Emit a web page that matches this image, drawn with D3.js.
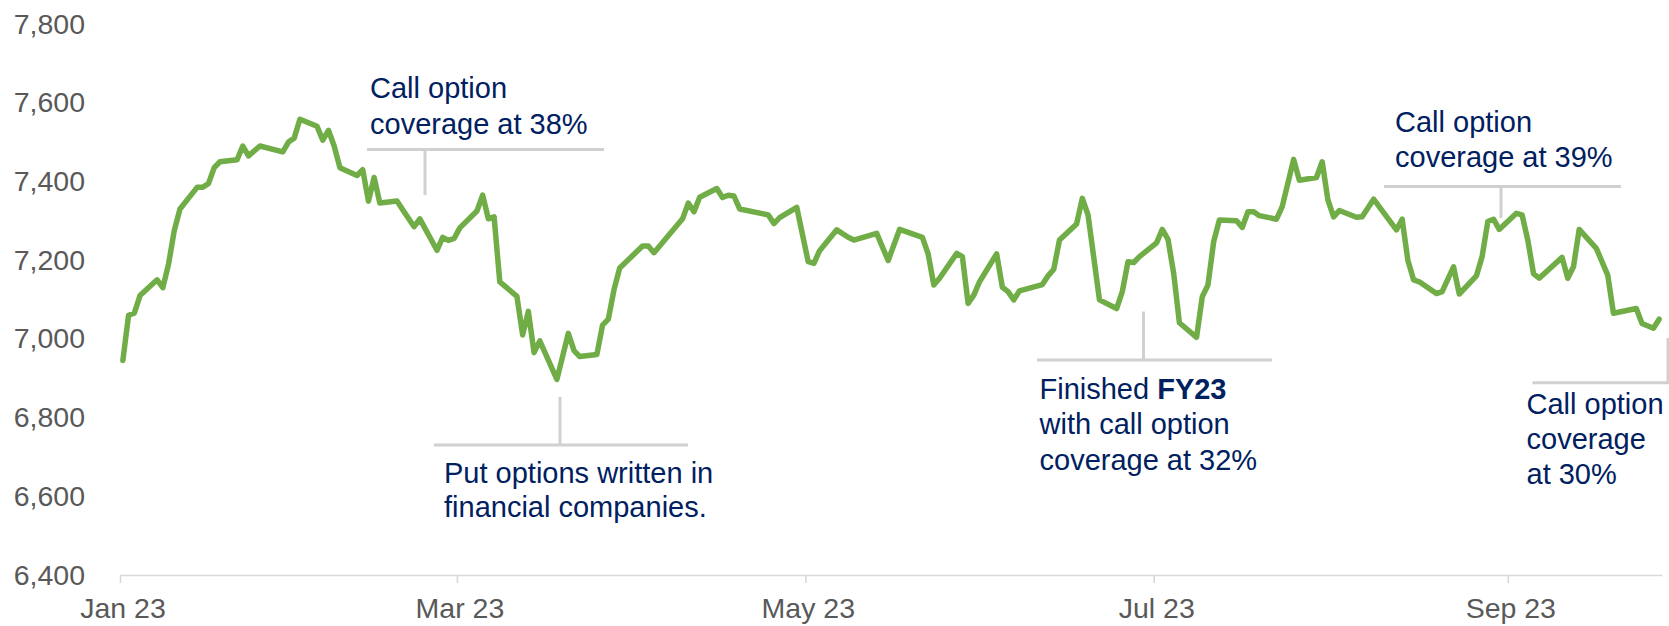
<!DOCTYPE html>
<html>
<head>
<meta charset="utf-8">
<script src="https://cdn.jsdelivr.net/npm/d3@7"></script>
<style>
  html, body { margin: 0; padding: 0; background: #ffffff; }
  svg { display: block; font-family: "Liberation Sans", Arial, Helvetica, sans-serif; }
</style>
</head>
<body>
<svg id="chart" width="1669" height="626"></svg>
<script>
// S&P/ASX 200 daily closes, January – September 2023
const dates = [
  "2023-01-03","2023-01-04","2023-01-05","2023-01-06","2023-01-09","2023-01-10","2023-01-11","2023-01-12","2023-01-13",
  "2023-01-16","2023-01-17","2023-01-18","2023-01-19","2023-01-20","2023-01-23","2023-01-24","2023-01-25","2023-01-27",
  "2023-01-31","2023-02-01","2023-02-02","2023-02-03","2023-02-06","2023-02-07","2023-02-08","2023-02-09","2023-02-10",
  "2023-02-13","2023-02-14","2023-02-15","2023-02-16","2023-02-17","2023-02-20","2023-02-21","2023-02-23","2023-02-24",
  "2023-02-27","2023-02-28","2023-03-01","2023-03-02","2023-03-03","2023-03-06","2023-03-07","2023-03-08","2023-03-09",
  "2023-03-10","2023-03-13","2023-03-14","2023-03-15","2023-03-16","2023-03-17","2023-03-20","2023-03-22","2023-03-23",
  "2023-03-24","2023-03-27","2023-03-28","2023-03-29","2023-03-30","2023-03-31","2023-04-04","2023-04-05","2023-04-06",
  "2023-04-11","2023-04-12","2023-04-13","2023-04-14","2023-04-17","2023-04-18","2023-04-19","2023-04-20","2023-04-21",
  "2023-04-26","2023-04-27","2023-04-28","2023-05-01","2023-05-03","2023-05-04","2023-05-05","2023-05-08","2023-05-10",
  "2023-05-11","2023-05-15","2023-05-17","2023-05-19","2023-05-23","2023-05-24","2023-05-25","2023-05-26","2023-05-29",
  "2023-05-30","2023-05-31","2023-06-01","2023-06-02","2023-06-05","2023-06-06","2023-06-07","2023-06-08","2023-06-09",
  "2023-06-13","2023-06-14","2023-06-15","2023-06-16","2023-06-19","2023-06-20","2023-06-21","2023-06-23","2023-06-26",
  "2023-06-27","2023-06-28","2023-06-29","2023-06-30","2023-07-03","2023-07-04","2023-07-05","2023-07-06","2023-07-07",
  "2023-07-10","2023-07-11","2023-07-12","2023-07-13","2023-07-14","2023-07-17","2023-07-18","2023-07-19","2023-07-20",
  "2023-07-21","2023-07-24","2023-07-25","2023-07-27","2023-07-28","2023-07-31","2023-08-01","2023-08-02","2023-08-03",
  "2023-08-04","2023-08-07","2023-08-08","2023-08-10","2023-08-14","2023-08-15","2023-08-16","2023-08-17","2023-08-18",
  "2023-08-21","2023-08-22","2023-08-24","2023-08-25","2023-08-28","2023-08-29","2023-08-30","2023-08-31","2023-09-01",
  "2023-09-04","2023-09-05","2023-09-06","2023-09-07","2023-09-08","2023-09-12","2023-09-13","2023-09-14","2023-09-15",
  "2023-09-18","2023-09-20","2023-09-21","2023-09-25","2023-09-26","2023-09-28","2023-09-29"
];

const values = [
  6945, 7060, 7065, 7110, 7150, 7130, 7190, 7275, 7330,
  7385, 7385, 7395, 7435, 7450, 7455, 7490, 7465, 7490,
  7475, 7500, 7510, 7558, 7540, 7505, 7530, 7490, 7435,
  7415, 7430, 7350, 7410, 7345, 7350, 7328, 7285, 7305,
  7225, 7258, 7250, 7255, 7282, 7325, 7365, 7305, 7310,
  7145, 7108, 7010, 7070, 6965, 6995, 6897, 7014, 6970,
  6955, 6960, 7035, 7050, 7125, 7180, 7236, 7236, 7219,
  7305, 7345, 7323, 7360, 7382, 7359, 7365, 7363, 7330,
  7315, 7293, 7308, 7334, 7196, 7192, 7224, 7277, 7258,
  7251, 7268, 7199, 7278, 7258, 7216, 7137, 7154, 7217,
  7209, 7090, 7111, 7145, 7216, 7131, 7120, 7099, 7122,
  7138, 7160, 7177, 7251, 7292, 7357, 7315, 7099, 7077,
  7120, 7196, 7194, 7209, 7244, 7278, 7253, 7166, 7041,
  7004, 7107, 7137, 7247, 7302, 7300, 7283, 7323, 7323,
  7313, 7304, 7336, 7456, 7403, 7410, 7450, 7353, 7310,
  7326, 7309, 7310, 7355, 7277, 7304, 7200, 7150, 7145,
  7115, 7120, 7183, 7114, 7160, 7209, 7298, 7304, 7278,
  7319, 7315, 7251, 7166, 7154, 7207, 7154, 7183, 7278,
  7230, 7162, 7065, 7077, 7039, 7027, 7050
];

// Axis ticks (two-month steps from the first trading day)
const tickDates = ["2023-01-03", "2023-03-03", "2023-05-03", "2023-07-03", "2023-09-03"];
const tickLabels = ["Jan 23", "Mar 23", "May 23", "Jul 23", "Sep 23"];
const yTicks = [6400, 6600, 6800, 7000, 7200, 7400, 7600, 7800];

// Callout notes
const notes = [
  { lines: [[{ t: "Call option" }], [{ t: "coverage at 38%" }]],
    stemX: 425, stemTop: 149.5, stemBottom: 195, barY: 149.5, barL: 367, barR: 604,
    textX: 370, textY: [98, 134] },
  { lines: [[{ t: "Call option" }], [{ t: "coverage at 39%" }]],
    stemX: 1501, stemTop: 186.5, stemBottom: 218, barY: 186.5, barL: 1384, barR: 1621,
    textX: 1395, textY: [131.5, 166.5] },
  { lines: [[{ t: "Put options written in" }], [{ t: "financial companies." }]],
    stemX: 560, stemTop: 397, stemBottom: 445, barY: 445, barL: 434, barR: 688,
    textX: 444, textY: [482.5, 517] },
  { lines: [[{ t: "Finished " }, { t: "FY23", b: true }], [{ t: "with call option" }], [{ t: "coverage at 32%" }]],
    stemX: 1143.5, stemTop: 311.5, stemBottom: 360, barY: 360, barL: 1037, barR: 1272,
    textX: 1039.5, textY: [399, 434.3, 469.5] },
  { lines: [[{ t: "Call option" }], [{ t: "coverage" }], [{ t: "at 30%" }]],
    stemX: 1668, stemTop: 338, stemBottom: 382.7, barY: 382.7, barL: 1532.5, barR: 1669,
    textX: 1526.5, textY: [413.5, 448.5, 484] }
];

const parseDay = d3.utcParse("%Y-%m-%d");
const series = dates.map((d, i) => ({ date: d3.utcHour.offset(parseDay(d), 12), value: values[i] }));

const svg = d3.select("#chart");

const x = d3.scaleUtc()
  .domain([parseDay("2023-01-03"), parseDay("2023-09-30")])
  .range([120, 1662]);

const y = d3.scaleLinear()
  .domain([6400, 7800])
  .range([575, 24]);

// Y axis labels (no axis line, no gridlines)
const yAxis = svg.append("g")
  .attr("transform", "translate(85,0)")
  .call(d3.axisLeft(y).tickValues(yTicks).tickFormat(d3.format(",")).tickSize(0).tickPadding(0));
yAxis.select(".domain").remove();
yAxis.selectAll("text")
  .attr("fill", "#595959")
  .style("font-size", "28.5px");

// X axis
const xAxis = svg.append("g")
  .attr("transform", `translate(0,${y(6400)})`)
  .call(d3.axisBottom(x)
    .tickValues(tickDates.map(parseDay))
    .tickFormat((d, i) => tickLabels[i])
    .tickSize(8)
    .tickSizeOuter(0)
    .tickPadding(15));
xAxis.select(".domain").attr("stroke", "#d9d9d9").attr("stroke-width", 1.6);
xAxis.selectAll(".tick line").attr("stroke", "#d9d9d9").attr("stroke-width", 1.6);
xAxis.selectAll(".tick text")
  .attr("fill", "#595959")
  .attr("dx", 2.5)
  .style("font-size", "28.5px");

// Index line
const line = d3.line()
  .x(d => x(d.date))
  .y(d => y(d.value));

svg.append("path")
  .datum(series)
  .attr("fill", "none")
  .attr("stroke", "#70ad47")
  .attr("stroke-width", 5.5)
  .attr("stroke-linejoin", "round")
  .attr("stroke-linecap", "round")
  .attr("d", line);

// Callouts
const callouts = svg.append("g");
notes.forEach(n => {
  const g = callouts.append("g");
  g.append("line")
    .attr("x1", n.barL).attr("x2", n.barR)
    .attr("y1", n.barY).attr("y2", n.barY)
    .attr("stroke", "#d0d0d0").attr("stroke-width", 3);
  g.append("line")
    .attr("x1", n.stemX).attr("x2", n.stemX)
    .attr("y1", n.stemTop).attr("y2", n.stemBottom)
    .attr("stroke", "#d0d0d0").attr("stroke-width", 3);
  n.lines.forEach((parts, i) => {
    const t = g.append("text")
      .attr("x", n.textX)
      .attr("y", n.textY[i])
      .attr("fill", "#002060")
      .style("font-size", "29px");
    parts.forEach(p => {
      t.append("tspan")
        .attr("font-weight", p.b ? "bold" : "normal")
        .text(p.t);
    });
  });
});
</script>
</body>
</html>
